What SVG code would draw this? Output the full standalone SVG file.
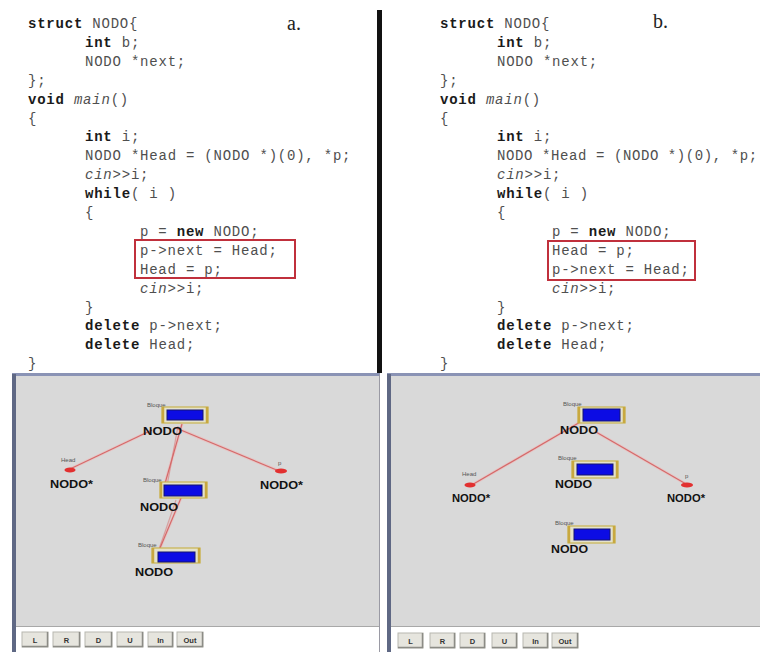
<svg xmlns="http://www.w3.org/2000/svg" width="760" height="652" viewBox="0 0 760 652">
  <defs>
    <style>
      .code { font-family: "Liberation Mono", "DejaVu Sans Mono", monospace; font-size: 14px; letter-spacing: 0.78px; fill: #4f4f4f; white-space: pre; }
      .kw { font-weight: bold; fill: #1a1a1a; }
      .it { font-style: italic; }
      .tag { font-family: "Liberation Serif", serif; font-size: 20px; fill: #222; }
      .hl { fill: none; stroke: #c0303c; stroke-width: 2; }
      .panel { fill: #d9d9d9; }
      .frameTop { stroke: #8a93b5; stroke-width: 3; }
      .frameSide { stroke: #5f6884; stroke-width: 4; }
      .small { font-family: "Liberation Sans", Arial, sans-serif; font-size: 6px; fill: #555; }
      .nodo { font-family: "Liberation Sans", Arial, sans-serif; font-size: 10.5px; font-weight: bold; fill: #111; }
      .frame { fill: #e4e2cc; stroke: #c8b450; stroke-width: 1.2; }
      .bar { stroke: #c8a840; stroke-width: 2.5; }
      .blk { fill: #0c0ce4; stroke: #141470; stroke-width: 1; }
      .ptr { fill: #e23030; }
      .link { stroke: #d46a6a; stroke-width: 1.2; fill: none; }
      .halo { stroke: #f0b8b8; stroke-width: 3; fill: none; opacity: 0.6; }
      .btn { fill: #e6e5de; stroke: #b8b8b0; stroke-width: 1; }
      .btnEdge { stroke: #8c8c86; stroke-width: 1.5; fill: none; }
      .btnTxt { font-family: "Liberation Sans", Arial, sans-serif; font-size: 7.5px; font-weight: bold; fill: #333; text-anchor: middle; }
    </style>
  </defs>

  <rect width="760" height="652" fill="#ffffff"/>

  <!-- code listings -->
  <g id="code-a">
    <text class="code" x="28" y="28"><tspan class="kw">struct</tspan> NODO{</text>
    <text class="code" x="85" y="46.9"><tspan class="kw">int</tspan> b;</text>
    <text class="code" x="85" y="65.8">NODO *next;</text>
    <text class="code" x="28" y="84.7">};</text>
    <text class="code" x="28" y="103.6"><tspan class="kw">void</tspan> <tspan class="it">main</tspan>()</text>
    <text class="code" x="28" y="122.5">{</text>
    <text class="code" x="85" y="141.4"><tspan class="kw">int</tspan> i;</text>
    <text class="code" x="85" y="160.3">NODO *Head = (NODO *)(0), *p;</text>
    <text class="code" x="85" y="179.2"><tspan class="it">cin</tspan>&gt;&gt;i;</text>
    <text class="code" x="85" y="198.1"><tspan class="kw">while</tspan>( i )</text>
    <text class="code" x="85" y="217">{</text>
    <text class="code" x="140" y="235.9">p = <tspan class="kw">new</tspan> NODO;</text>
    <text class="code" x="140" y="254.8">p-&gt;next = Head;</text>
    <text class="code" x="140" y="273.7">Head = p;</text>
    <text class="code" x="140" y="292.6"><tspan class="it">cin</tspan>&gt;&gt;i;</text>
    <text class="code" x="85" y="311.5">}</text>
    <text class="code" x="85" y="330.4"><tspan class="kw">delete</tspan> p-&gt;next;</text>
    <text class="code" x="85" y="349.3"><tspan class="kw">delete</tspan> Head;</text>
    <text class="code" x="28" y="368.2">}</text>
    <rect class="hl" x="135" y="240" width="160" height="38"/>
    <text class="tag" x="287" y="30">a.</text>
  </g>

  <g id="code-b">
    <text class="code" x="440" y="28"><tspan class="kw">struct</tspan> NODO{</text>
    <text class="code" x="497" y="46.9"><tspan class="kw">int</tspan> b;</text>
    <text class="code" x="497" y="65.8">NODO *next;</text>
    <text class="code" x="440" y="84.7">};</text>
    <text class="code" x="440" y="103.6"><tspan class="kw">void</tspan> <tspan class="it">main</tspan>()</text>
    <text class="code" x="440" y="122.5">{</text>
    <text class="code" x="497" y="141.4"><tspan class="kw">int</tspan> i;</text>
    <text class="code" x="497" y="160.3" textLength="261" lengthAdjust="spacing">NODO *Head = (NODO *)(0), *p;</text>
    <text class="code" x="497" y="179.2"><tspan class="it">cin</tspan>&gt;&gt;i;</text>
    <text class="code" x="497" y="198.1"><tspan class="kw">while</tspan>( i )</text>
    <text class="code" x="497" y="217">{</text>
    <text class="code" x="552" y="235.9">p = <tspan class="kw">new</tspan> NODO;</text>
    <text class="code" x="552" y="254.8">Head = p;</text>
    <text class="code" x="552" y="273.7">p-&gt;next = Head;</text>
    <text class="code" x="552" y="292.6"><tspan class="it">cin</tspan>&gt;&gt;i;</text>
    <text class="code" x="497" y="311.5">}</text>
    <text class="code" x="497" y="330.4"><tspan class="kw">delete</tspan> p-&gt;next;</text>
    <text class="code" x="497" y="349.3"><tspan class="kw">delete</tspan> Head;</text>
    <text class="code" x="440" y="368.2">}</text>
    <rect class="hl" x="548" y="241" width="147" height="39"/>
    <text class="tag" x="653" y="28">b.</text>
  </g>

  <!-- divider between the two listings -->
  <rect x="377" y="10" width="5" height="363" fill="#111"/>

  <!-- viewer panels -->
  <g id="panel-a">
    <rect class="panel" x="16" y="376" width="363" height="250"/>
    <line class="frameTop" x1="12" y1="374.5" x2="380" y2="374.5"/>
    <line class="frameSide" x1="14" y1="374" x2="14" y2="652"/>
    <line x1="379.5" y1="374" x2="379.5" y2="652" stroke="#9a9aa4" stroke-width="1"/>
    <line x1="16" y1="626.5" x2="379" y2="626.5" stroke="#a8a8a8" stroke-width="1"/>
  </g>
  <g id="panel-b">
    <rect class="panel" x="391" y="376" width="369" height="250"/>
    <line class="frameTop" x1="387" y1="374.5" x2="760" y2="374.5"/>
    <line class="frameSide" x1="389" y1="374" x2="389" y2="652"/>
    <line x1="391" y1="626.5" x2="760" y2="626.5" stroke="#a8a8a8" stroke-width="1"/>
  </g>

  <!-- connectors -->
  <g id="connectors">
    <line class="halo" x1="152" y1="430" x2="70" y2="469"/>
    <line class="link" x1="152" y1="430" x2="70" y2="469"/>
    <line class="halo" x1="176" y1="428" x2="279" y2="471"/>
    <line class="link" x1="176" y1="428" x2="279" y2="471"/>
    <line class="halo" x1="182" y1="424" x2="164" y2="487"/>
    <line class="link" x1="182" y1="424" x2="164" y2="487"/>
    <line class="link" x1="178" y1="426" x2="167" y2="486" opacity="0.5"/>
    <line class="halo" x1="181" y1="498" x2="155" y2="560"/>
    <line class="link" x1="181" y1="498" x2="155" y2="560"/>
    <line class="link" x1="176" y1="500" x2="156" y2="558" opacity="0.5"/>

    <line class="halo" x1="582" y1="421" x2="470" y2="486"/>
    <line class="link" x1="582" y1="421" x2="470" y2="486"/>
    <line class="halo" x1="596" y1="432" x2="686" y2="484"/>
    <line class="link" x1="596" y1="432" x2="686" y2="484"/>
  </g>

  <!-- panel a nodes -->
  <g id="a-bloque-1">
    <text class="small" x="147" y="407">Bloque</text>
    <rect class="frame" x="162" y="407" width="46" height="16"/>
    <line class="bar" x1="163" y1="407" x2="163" y2="423"/>
    <line class="bar" x1="207" y1="407" x2="207" y2="423"/>
    <rect class="blk" x="167" y="410" width="36" height="10"/>
    <text class="nodo" x="143" y="435" textLength="39" lengthAdjust="spacingAndGlyphs">NODO</text>
  </g>
  <g id="a-head">
    <text class="small" x="61" y="462">Head</text>
    <ellipse class="ptr" cx="70" cy="470" rx="5.5" ry="2.5"/>
    <text class="nodo" x="50" y="488" textLength="43" lengthAdjust="spacingAndGlyphs">NODO*</text>
  </g>
  <g id="a-p">
    <text class="small" x="278" y="465">p</text>
    <ellipse class="ptr" cx="281" cy="471" rx="6" ry="2.5"/>
    <text class="nodo" x="260" y="489" textLength="43" lengthAdjust="spacingAndGlyphs">NODO*</text>
  </g>
  <g id="a-bloque-2">
    <text class="small" x="143" y="482">Bloque</text>
    <rect class="frame" x="160" y="482" width="47" height="16"/>
    <line class="bar" x1="161" y1="482" x2="161" y2="498"/>
    <line class="bar" x1="206" y1="482" x2="206" y2="498"/>
    <rect class="blk" x="164" y="485" width="38" height="11"/>
    <text class="nodo" x="140" y="511" textLength="38" lengthAdjust="spacingAndGlyphs">NODO</text>
  </g>
  <g id="a-bloque-3">
    <text class="small" x="138" y="547">Bloque</text>
    <rect class="frame" x="152" y="548" width="48" height="15"/>
    <line class="bar" x1="153" y1="548" x2="153" y2="563"/>
    <line class="bar" x1="199" y1="548" x2="199" y2="563"/>
    <rect class="blk" x="158" y="552" width="37" height="10"/>
    <text class="nodo" x="135" y="576" textLength="38" lengthAdjust="spacingAndGlyphs">NODO</text>
  </g>

  <!-- panel b nodes -->
  <g id="b-bloque-1">
    <text class="small" x="563" y="406">Bloque</text>
    <rect class="frame" x="578" y="407" width="47" height="16"/>
    <line class="bar" x1="579" y1="407" x2="579" y2="423"/>
    <line class="bar" x1="624" y1="407" x2="624" y2="423"/>
    <rect class="blk" x="583" y="409" width="37" height="12"/>
    <text class="nodo" x="560" y="434" textLength="38" lengthAdjust="spacingAndGlyphs">NODO</text>
  </g>
  <g id="b-bloque-2">
    <text class="small" x="558" y="460">Bloque</text>
    <rect class="frame" x="572" y="461" width="46" height="17"/>
    <line class="bar" x1="573" y1="461" x2="573" y2="478"/>
    <line class="bar" x1="617" y1="461" x2="617" y2="478"/>
    <rect class="blk" x="577" y="464" width="36" height="11"/>
    <text class="nodo" x="555" y="488" textLength="37" lengthAdjust="spacingAndGlyphs">NODO</text>
  </g>
  <g id="b-head">
    <text class="small" x="462" y="476">Head</text>
    <ellipse class="ptr" cx="470" cy="485" rx="5.5" ry="2.5"/>
    <text class="nodo" x="452" y="502" textLength="38" lengthAdjust="spacingAndGlyphs">NODO*</text>
  </g>
  <g id="b-p">
    <text class="small" x="685" y="478">p</text>
    <ellipse class="ptr" cx="687" cy="485" rx="6" ry="2.5"/>
    <text class="nodo" x="667" y="502" textLength="38" lengthAdjust="spacingAndGlyphs">NODO*</text>
  </g>
  <g id="b-bloque-3">
    <text class="small" x="555" y="525">Bloque</text>
    <rect class="frame" x="568" y="526" width="47" height="17"/>
    <line class="bar" x1="569" y1="526" x2="569" y2="543"/>
    <line class="bar" x1="614" y1="526" x2="614" y2="543"/>
    <rect class="blk" x="574" y="529" width="36" height="11"/>
    <text class="nodo" x="551" y="553" textLength="37" lengthAdjust="spacingAndGlyphs">NODO</text>
  </g>

  <!-- navigation buttons -->
  <g id="buttons-a">
    <rect class="btn" x="22" y="632" width="26" height="15"/><polyline class="btnEdge" points="47.5,632 47.5,646.5 22,646.5"/><text class="btnTxt" x="35" y="642.5">L</text>
    <rect class="btn" x="53" y="632" width="27" height="15"/><polyline class="btnEdge" points="79.5,632 79.5,646.5 53,646.5"/><text class="btnTxt" x="66.5" y="642.5">R</text>
    <rect class="btn" x="85" y="632" width="27" height="15"/><polyline class="btnEdge" points="111.5,632 111.5,646.5 85,646.5"/><text class="btnTxt" x="98.5" y="642.5">D</text>
    <rect class="btn" x="117" y="632" width="26" height="15"/><polyline class="btnEdge" points="142.5,632 142.5,646.5 117,646.5"/><text class="btnTxt" x="130" y="642.5">U</text>
    <rect class="btn" x="148" y="632" width="25" height="15"/><polyline class="btnEdge" points="172.5,632 172.5,646.5 148,646.5"/><text class="btnTxt" x="160.5" y="642.5">In</text>
    <rect class="btn" x="177" y="632" width="26" height="15"/><polyline class="btnEdge" points="202.5,632 202.5,646.5 177,646.5"/><text class="btnTxt" x="190" y="642.5">Out</text>
  </g>
  <g id="buttons-b">
    <rect class="btn" x="398" y="633" width="25" height="15"/><polyline class="btnEdge" points="422.5,633 422.5,647.5 398,647.5"/><text class="btnTxt" x="410.5" y="643.5">L</text>
    <rect class="btn" x="430" y="633" width="25" height="15"/><polyline class="btnEdge" points="454.5,633 454.5,647.5 430,647.5"/><text class="btnTxt" x="442.5" y="643.5">R</text>
    <rect class="btn" x="460" y="633" width="25" height="15"/><polyline class="btnEdge" points="484.5,633 484.5,647.5 460,647.5"/><text class="btnTxt" x="472.5" y="643.5">D</text>
    <rect class="btn" x="492" y="633" width="25" height="15"/><polyline class="btnEdge" points="516.5,633 516.5,647.5 492,647.5"/><text class="btnTxt" x="504.5" y="643.5">U</text>
    <rect class="btn" x="523" y="633" width="25" height="15"/><polyline class="btnEdge" points="547.5,633 547.5,647.5 523,647.5"/><text class="btnTxt" x="535.5" y="643.5">In</text>
    <rect class="btn" x="552" y="633" width="26" height="15"/><polyline class="btnEdge" points="577.5,633 577.5,647.5 552,647.5"/><text class="btnTxt" x="565" y="643.5">Out</text>
  </g>
</svg>
